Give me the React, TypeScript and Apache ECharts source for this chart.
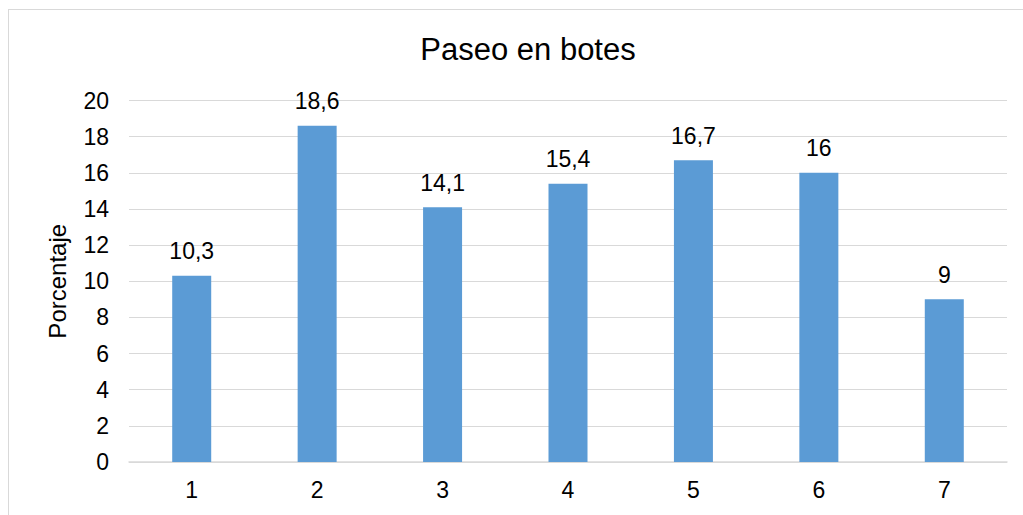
import React, { useEffect, useRef } from "react";
import * as echarts from "echarts";

const categories = ["1", "2", "3", "4", "5", "6", "7"];
const values = [10.3, 18.6, 14.1, 15.4, 16.7, 16, 9];
const chartTitle = "Paseo en botes";
const yAxisName = "Porcentaje";

const FONT = "'Liberation Sans', Arial, sans-serif";

export default function App() {
  const ref = useRef<HTMLDivElement>(null);
  useEffect(() => {
    if (!ref.current) return;
    const chart = echarts.init(ref.current, undefined, { renderer: "svg" });
    chart.setOption({
      animation: false,
      backgroundColor: "#ffffff",
      title: {
        text: chartTitle,
        left: 514,
        top: 19,
        textAlign: "center",
        textStyle: { fontFamily: FONT, fontSize: 31, fontWeight: "normal", color: "#000" },
      },
      grid: { left: 120, right: 16, top: 90.5, bottom: 53, containLabel: false },
      xAxis: {
        type: "category",
        data: categories,
        axisLine: { lineStyle: { color: "#d9d9d9", width: 1.5 } },
        axisTick: { show: false },
        axisLabel: { fontFamily: FONT, fontSize: 23, color: "#000", margin: 16 },
      },
      yAxis: {
        type: "value",
        min: 0,
        max: 20,
        interval: 2,
        name: yAxisName,
        nameLocation: "middle",
        nameGap: 60,
        nameTextStyle: { fontFamily: FONT, fontSize: 24, color: "#000" },
        axisLine: { show: false },
        axisTick: { show: false },
        splitLine: { lineStyle: { color: "#d9d9d9", width: 1.2 } },
        axisLabel: { fontFamily: FONT, fontSize: 23, color: "#000", margin: 20 },
      },
      series: [
        {
          type: "bar",
          data: values,
          barWidth: 39,
          itemStyle: { color: "#5b9bd5" },
          label: {
            show: true,
            position: "top",
            distance: 13,
            fontFamily: FONT,
            fontSize: 23,
            color: "#000",
            formatter: (p: any) => String(p.value).replace(".", ","),
          },
        },
      ],
    });
    return () => chart.dispose();
  }, []);
  return (
    <div
      style={{
        position: "fixed",
        left: 8,
        top: 9,
        width: 1015,
        height: 506,
        borderTop: "1px solid #d9d9d9",
        borderLeft: "1px solid #d9d9d9",
        boxSizing: "border-box",
      }}
    >
      <div ref={ref} style={{ width: 1014, height: 505 }} />
    </div>
  );
}
